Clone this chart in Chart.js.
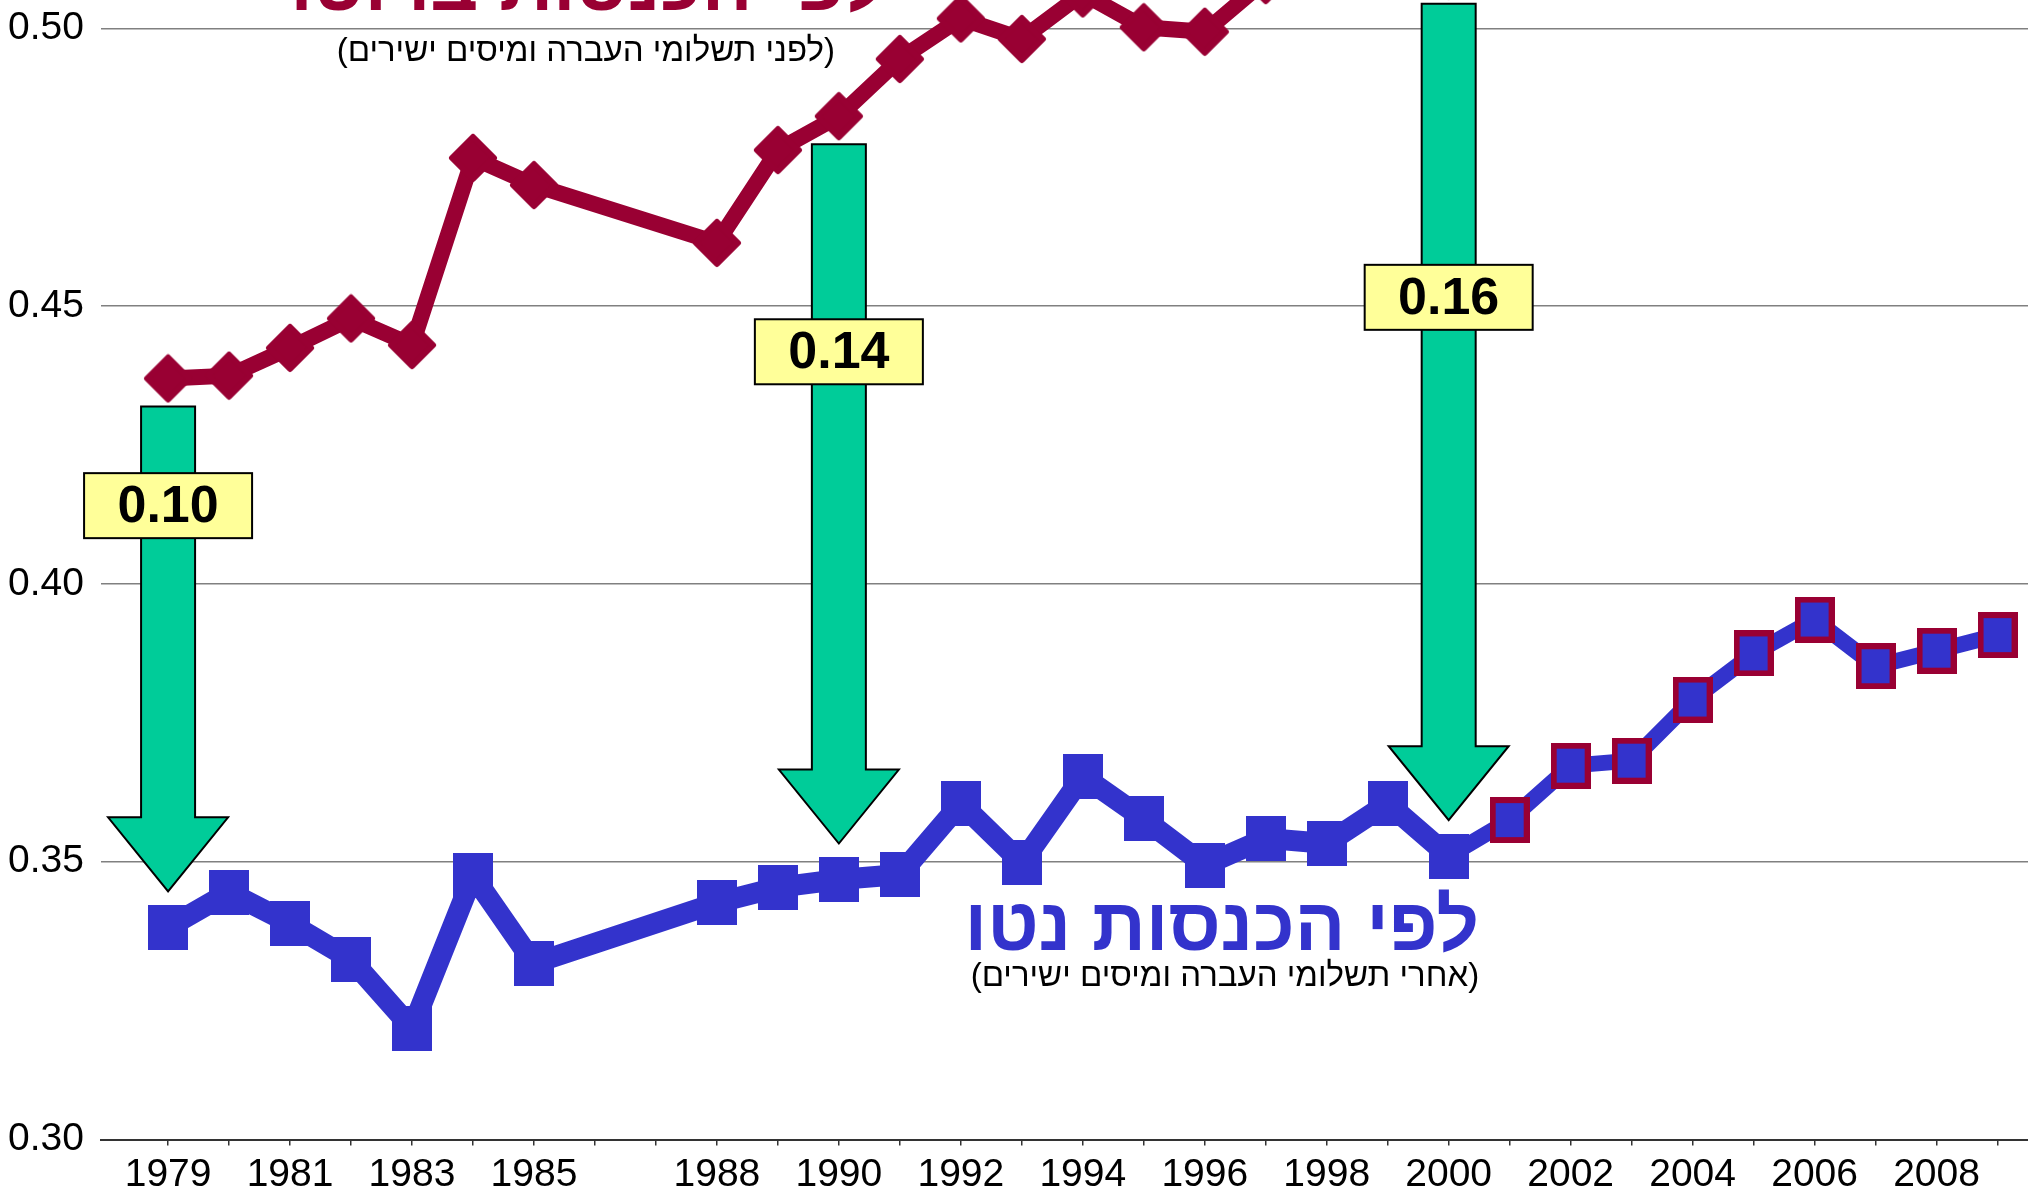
<!DOCTYPE html>
<html lang="he">
<head>
<meta charset="utf-8">
<title>מדד ג'יני לפי הכנסות ברוטו ונטו</title>
<script src="https://cdn.jsdelivr.net/npm/chart.js@4.4.1/dist/chart.umd.min.js"></script>
<style>
  html, body { margin: 0; padding: 0; background: #fff; overflow: hidden; }
  #wrap { position: relative; width: 2028px; height: 1193px; overflow: hidden; }
  /* chart top (above 0.50) is cut off like the original slide */
  #gini { position: absolute; left: 0; top: -260px; }
</style>
</head>
<body>
<div id="wrap"><canvas id="gini" width="2028" height="1453"></canvas></div>
<script>
var years = [1979, 1980, 1981, 1982, 1983, 1984, 1985, 1986, 1987, 1988,
  1989, 1990, 1991, 1992, 1993, 1994, 1995, 1996, 1997, 1998, 1999, 2000,
  2001, 2002, 2003, 2004, 2005, 2006, 2007, 2008, 2009];

// gini by gross income (before transfers and direct taxes)
var grossGini = [0.437, 0.4375, 0.4425, 0.4478, 0.443, 0.4767, 0.4718, null, null, 0.4614,
  0.4781, 0.4842, 0.4945, 0.5018, 0.4981, 0.5063, 0.5002, 0.4994, 0.5087, 0.513, 0.514, 0.5095,
  null, null, null, null, null, null, null, null, null];

// gini by net income (after transfers and direct taxes)
var netGini = [0.3382, 0.3445, 0.3389, 0.3324, 0.320, 0.3475, 0.3317, null, null, 0.3426,
  0.3454, 0.3468, 0.3477, 0.3605, 0.3498, 0.3654, 0.3577, 0.3494, 0.3542, 0.3533, 0.3605, 0.351,
  0.3575, 0.3673, 0.3682, 0.3792, 0.3875, 0.3936, 0.3852, 0.388, 0.3908];

var labelYears = [1979, 1981, 1983, 1985, 1988, 1990, 1992, 1994, 1996, 1998,
  2000, 2002, 2004, 2006, 2008];
var yTicks = [0.30, 0.35, 0.40, 0.45, 0.50];
var gapYears = [1979, 1990, 2000];

var CRIMSON = "#990033";
var BLUE = "#3333CC";
var FONT = "'Liberation Sans', Arial, sans-serif";

// where the gap boxes sit (value on the y axis)
var gapBoxAt = [0.4141, 0.4418, 0.4516];

function toPoints(vals) {
  return years.map(function (yr, i) { return { x: yr, y: vals[i] }; });
}

// marker images (the slide's markers are slightly taller than wide)
function makeMarker(w, h, draw) {
  var c = document.createElement("canvas");
  c.width = w;
  c.height = h;
  draw(c.getContext("2d"), w, h);
  return c;
}
var diamond = makeMarker(50, 50, function (g, w, h) {
  g.beginPath();
  g.moveTo(w / 2, 4);
  g.lineTo(w - 4, h / 2);
  g.lineTo(w / 2, h - 4);
  g.lineTo(4, h / 2);
  g.closePath();
  g.fillStyle = CRIMSON;
  g.strokeStyle = CRIMSON;
  g.lineWidth = 6;
  g.lineJoin = "round";
  g.fill();
  g.stroke();
});
var blueSquare = makeMarker(40, 45, function (g, w, h) {
  g.fillStyle = BLUE;
  g.fillRect(0, 0, w, h);
});
var framedSquare = makeMarker(40, 46, function (g, w, h) {
  g.fillStyle = CRIMSON;
  g.fillRect(0, 0, w, h);
  g.fillStyle = BLUE;
  g.fillRect(6, 6, w - 12, h - 12);
});

function drawArrow(ctx, cx, top, tip) {
  var sw = 54, hw = 120, hh = 74;
  ctx.beginPath();
  ctx.moveTo(cx - sw / 2, top);
  ctx.lineTo(cx + sw / 2, top);
  ctx.lineTo(cx + sw / 2, tip - hh);
  ctx.lineTo(cx + hw / 2, tip - hh);
  ctx.lineTo(cx, tip);
  ctx.lineTo(cx - hw / 2, tip - hh);
  ctx.lineTo(cx - sw / 2, tip - hh);
  ctx.closePath();
  ctx.fillStyle = "#00CC99";
  ctx.fill();
  ctx.lineWidth = 2;
  ctx.strokeStyle = "#000";
  ctx.stroke();
}

function drawBox(ctx, cx, cy, text) {
  var w = 168, h = 65;
  ctx.fillStyle = "#FFFF99";
  ctx.fillRect(cx - w / 2, cy - h / 2, w, h);
  ctx.lineWidth = 2;
  ctx.strokeStyle = "#000";
  ctx.strokeRect(cx - w / 2, cy - h / 2, w, h);
  ctx.fillStyle = "#000";
  ctx.font = "bold 52px " + FONT;
  ctx.textAlign = "center";
  ctx.textBaseline = "middle";
  ctx.fillText(text, cx, cy + 2);
}

function hebText(ctx, text, x, y, font, color) {
  ctx.save();
  ctx.direction = "rtl";
  ctx.font = font;
  ctx.fillStyle = color;
  ctx.textAlign = "center";
  ctx.textBaseline = "alphabetic";
  ctx.fillText(text, x, y);
  ctx.restore();
}

var gapPlugin = {
  id: "gaps",
  beforeDatasetsDraw: function (chart) {
    var ctx = chart.ctx, xs = chart.scales.x, ys = chart.scales.y;
    ctx.save();
    gapYears.forEach(function (yr, k) {
      var i = years.indexOf(yr);
      var cx = xs.getPixelForValue(yr);
      var top = ys.getPixelForValue(grossGini[i]) + 28;
      var tip = ys.getPixelForValue(netGini[i]) - 36;
      drawArrow(ctx, cx, top, tip);
      drawBox(ctx, cx, ys.getPixelForValue(gapBoxAt[k]), (grossGini[i] - netGini[i]).toFixed(2));
    });
    ctx.restore();
  },
  afterDatasetsDraw: function (chart) {
    var ctx = chart.ctx, xs = chart.scales.x, ys = chart.scales.y;
    hebText(ctx, "לפי הכנסות ברוטו", xs.getPixelForValue(1985.89), ys.getPixelForValue(0.5033),
      "bold 75px " + FONT, CRIMSON);
    hebText(ctx, "(לפני תשלומי העברה ומיסים ישירים)", xs.getPixelForValue(1985.85), ys.getPixelForValue(0.4941),
      "33px " + FONT, "#000");
    hebText(ctx, "לפי הכנסות נטו", xs.getPixelForValue(1996.28), ys.getPixelForValue(0.3341),
      "bold 75px " + FONT, BLUE);
    hebText(ctx, "(אחרי תשלומי העברה ומיסים ישירים)", xs.getPixelForValue(1996.33), ys.getPixelForValue(0.3277),
      "33px " + FONT, "#000");
  }
};

var config = {
  type: "line",
  data: {
    datasets: [
      {
        label: "לפי הכנסות ברוטו",
        data: toPoints(grossGini),
        borderColor: CRIMSON,
        backgroundColor: CRIMSON,
        borderWidth: 16,
        pointStyle: diamond,
        pointRadius: 24,
        spanGaps: true,
        tension: 0,
      },
      {
        label: "לפי הכנסות נטו",
        data: toPoints(netGini),
        borderColor: BLUE,
        backgroundColor: BLUE,
        borderWidth: 21,
        segment: {
          borderWidth: function (c) { return c.p0.parsed.x >= 2000 ? 16 : 21; },
        },
        pointStyle: function (c) { return years[c.dataIndex] > 2000 ? framedSquare : blueSquare; },
        pointRadius: 24,
        spanGaps: true,
        tension: 0,
      },
    ],
  },
  options: {
    responsive: false,
    animation: false,
    layout: { autoPadding: false, padding: { top: 10.7, left: 0, right: 0, bottom: 0 } },
    plugins: {
      legend: { display: false },
      tooltip: { enabled: false },
    },
    scales: {
      x: {
        type: "linear",
        min: 1977.9,
        max: 2009.5,
        afterBuildTicks: function (s) {
          s.ticks = years.map(function (v) { return { value: v }; });
        },
        afterFit: function (s) {
          s.height = 53.5;
          s.paddingLeft = 0;
          s.paddingRight = 0;
        },
        grid: {
          drawOnChartArea: false,
          drawTicks: true,
          tickLength: 6,
          color: "#333",
          lineWidth: 1.5,
        },
        border: { display: true, color: "#333", width: 2 },
        ticks: {
          autoSkip: false,
          maxRotation: 0,
          padding: 6,
          color: "#000",
          font: { family: FONT, size: 39 },
          callback: function (v) { return labelYears.indexOf(v) >= 0 ? String(v) : ""; },
        },
      },
      y: {
        min: 0.30,
        max: 0.55,
        afterBuildTicks: function (s) {
          s.ticks = yTicks.map(function (v) { return { value: v }; });
        },
        afterFit: function (s) {
          s.width = 101;
          s.paddingTop = 0;
          s.paddingBottom = 0;
        },
        grid: { drawTicks: false, color: "#808080", lineWidth: 1.5 },
        border: { display: false },
        ticks: {
          padding: 17,
          color: "#000",
          font: { family: FONT, size: 39 },
          callback: function (v) { return v.toFixed(2); },
        },
      },
    },
  },
  plugins: [gapPlugin],
};

var ctx = document.getElementById("gini").getContext("2d");
window.giniChart = new Chart(ctx, config);
</script>
</body>
</html>
